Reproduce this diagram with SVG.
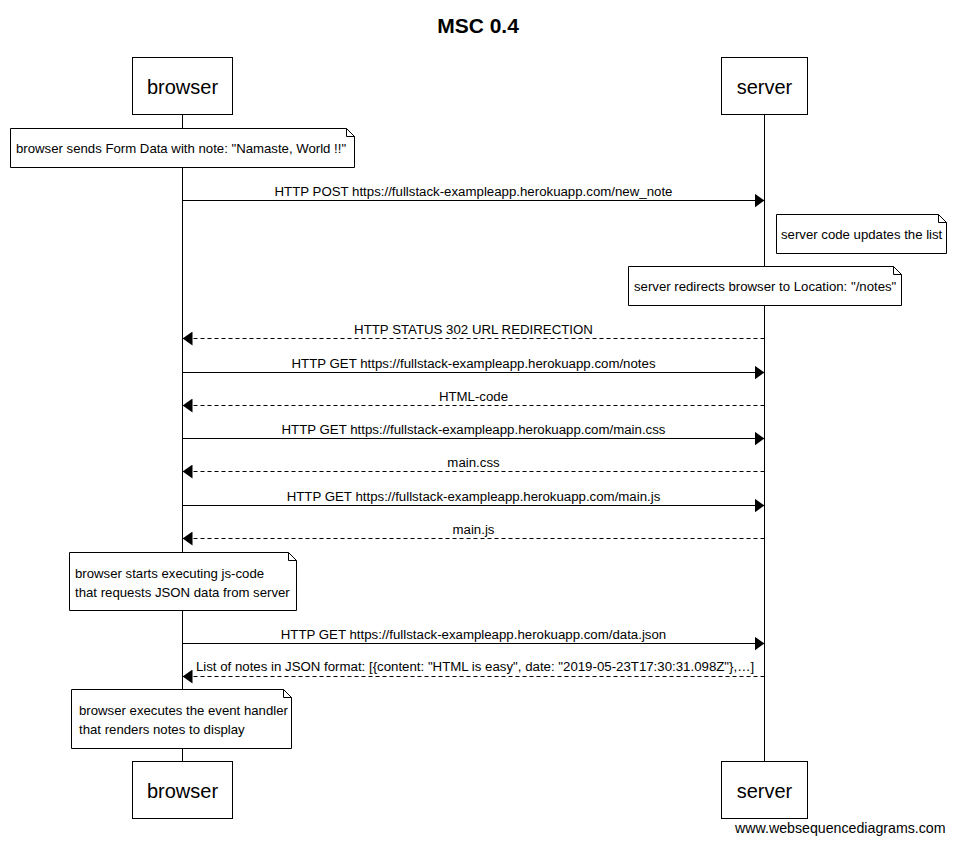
<svg xmlns="http://www.w3.org/2000/svg" width="955" height="842" viewBox="0 0 955 842">
<style>
  text { font-family: "Liberation Sans", Arial, sans-serif; fill: #000; }
  .title { font-size: 21px; font-weight: bold; text-anchor: middle; }
  .actor rect { fill: #fff; stroke: #000; stroke-width: 1; }
  .actor text { font-size: 20px; text-anchor: middle; }
  .life { stroke: #000; stroke-width: 1; fill: none; }
  .msg { stroke: #000; stroke-width: 1; fill: none; marker-end: url(#ah); }
  .dash { stroke-dasharray: 4,3; }
  .lbl { font-size: 13.25px; text-anchor: middle; }
  .note path.b { fill: #fff; stroke: #000; stroke-width: 1; }
  .note path.f { fill: none; stroke: #000; stroke-width: 1; }
  .note text { font-size: 13.2px; }
  .foot { font-size: 14.2px; }
</style>
<defs>
  <marker id="ah" markerUnits="userSpaceOnUse" markerWidth="10" markerHeight="14" refX="10" refY="7" orient="auto">
    <path d="M0,0 L10,7 L0,14 Z" fill="#000"/>
  </marker>
</defs>
<rect x="0" y="0" width="955" height="842" fill="#fff"/>
<text class="title" x="478" y="33">MSC 0.4</text>

<g id="lifelines">
  <line class="life" x1="182.5" y1="114" x2="182.5" y2="762"/>
  <line class="life" x1="764.5" y1="114" x2="764.5" y2="762"/>
</g>

<g id="browser-top" class="actor"><rect x="132.5" y="57.5" width="100" height="57"/><text x="182.5" y="94">browser</text></g>
<g id="server-top" class="actor"><rect x="721.5" y="57.5" width="86" height="57"/><text x="764.5" y="94">server</text></g>
<g id="browser-bottom" class="actor"><rect x="132.5" y="761.5" width="100" height="57"/><text x="182.5" y="798">browser</text></g>
<g id="server-bottom" class="actor"><rect x="721.5" y="761.5" width="86" height="57"/><text x="764.5" y="798">server</text></g>

<g id="connectors">
  <line class="msg" x1="182.5" y1="200.5" x2="764.5" y2="200.5"/>
  <text class="lbl" x="473.5" y="195.5">HTTP POST https://fullstack-exampleapp.herokuapp.com/new_note</text>
  <line class="msg dash" x1="764.5" y1="338.5" x2="182.5" y2="338.5"/>
  <text class="lbl" x="473.5" y="333.5">HTTP STATUS 302 URL REDIRECTION</text>
  <line class="msg" x1="182.5" y1="372.5" x2="764.5" y2="372.5"/>
  <text class="lbl" x="473.5" y="367.5">HTTP GET https://fullstack-exampleapp.herokuapp.com/notes</text>
  <line class="msg dash" x1="764.5" y1="405.5" x2="182.5" y2="405.5"/>
  <text class="lbl" x="473.5" y="400.5">HTML-code</text>
  <line class="msg" x1="182.5" y1="438.5" x2="764.5" y2="438.5"/>
  <text class="lbl" x="473.5" y="433.5">HTTP GET https://fullstack-exampleapp.herokuapp.com/main.css</text>
  <line class="msg dash" x1="764.5" y1="471.5" x2="182.5" y2="471.5"/>
  <text class="lbl" x="473.5" y="466.5">main.css</text>
  <line class="msg" x1="182.5" y1="505.5" x2="764.5" y2="505.5"/>
  <text class="lbl" x="473.5" y="500.5">HTTP GET https://fullstack-exampleapp.herokuapp.com/main.js</text>
  <line class="msg dash" x1="764.5" y1="538.5" x2="182.5" y2="538.5"/>
  <text class="lbl" x="473.5" y="533.5">main.js</text>
  <line class="msg" x1="182.5" y1="643.5" x2="764.5" y2="643.5"/>
  <text class="lbl" x="473.5" y="638.5">HTTP GET https://fullstack-exampleapp.herokuapp.com/data.json</text>
  <line class="msg dash" x1="764.5" y1="676.5" x2="182.5" y2="676.5"/>
  <text class="lbl" x="475" y="670.5">List of notes in JSON format: [{content: "HTML is easy", date: "2019-05-23T17:30:31.098Z"},…]</text>
</g>

<g id="note1" class="note">
  <path class="b" d="M10.5,128.5 H346.5 L354.5,136.5 V167.5 H10.5 Z"/>
  <path class="f" d="M346.5,128.5 V136.5 H354.5"/>
  <text x="16" y="152.5">browser sends Form Data with note: "Namaste, World !!"</text>
</g>
<g id="note2" class="note">
  <path class="b" d="M776.5,214.5 H938.5 L946.5,222.5 V253.5 H776.5 Z"/>
  <path class="f" d="M938.5,214.5 V222.5 H946.5"/>
  <text x="781" y="239">server code updates the list</text>
</g>
<g id="note3" class="note">
  <path class="b" d="M628.5,266.5 H893.5 L901.5,274.5 V305.5 H628.5 Z"/>
  <path class="f" d="M893.5,266.5 V274.5 H901.5"/>
  <text x="634" y="291">server redirects browser to Location: "/notes"</text>
</g>
<g id="note4" class="note">
  <path class="b" d="M69.5,552.5 H288.5 L296.5,560.5 V610.5 H69.5 Z"/>
  <path class="f" d="M288.5,552.5 V560.5 H296.5"/>
  <text x="75" y="578">browser starts executing js-code</text>
  <text x="75" y="597">that requests JSON data from server</text>
</g>
<g id="note5" class="note">
  <path class="b" d="M71.5,689.5 H283.5 L291.5,697.5 V748.5 H71.5 Z"/>
  <path class="f" d="M283.5,689.5 V697.5 H291.5"/>
  <text x="79" y="715">browser executes the event handler</text>
  <text x="79" y="734">that renders notes to display</text>
</g>

<text class="foot" x="735" y="833">www.websequencediagrams.com</text>
</svg>
